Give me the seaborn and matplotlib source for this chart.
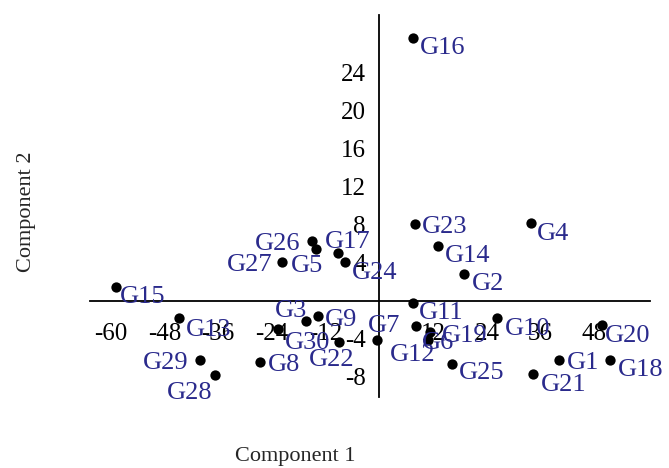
#!/usr/bin/env python3
import matplotlib
matplotlib.use('Agg')
import matplotlib.pyplot as plt
import numpy as np
import pandas as pd
import seaborn as sns

# genotype scores on the first two components
GENOTYPES = ['G%d' % i for i in range(1, 31)]
COMPONENT_1 = [40.1, 18.8, -16.4, 33.75, -14.2, 10.9, -0.5, -26.7, -13.7, 26.3,
               7.5, 8.1, -44.8, 13.0, -58.8, 7.5, -9.3, 51.5, 11.3, 49.7,
               34.3, -9.0, 7.9, -7.7, 16.25, -15.1, -21.7, -36.6, -40.1, -22.6]
COMPONENT_2 = [-6.2, 2.8, -2.1, 8.15, 5.4, -4.1, -4.1, -6.5, -1.6, -1.85,
               -0.2, -2.7, -1.85, 5.8, 1.4, 27.6, 5.05, -6.2, -3.3, -2.6,
               -7.7, -4.3, 8.05, 4.05, -6.65, 6.3, 4.1, -7.8, -6.25, -3.0]

X_TICKS = [-60, -48, -36, -24, -12, 12, 24, 36, 48]
Y_TICKS = [-8, -4, 4, 8, 12, 16, 20, 24]

# label placement, in pixels from the point (left edge of text, vertical centre)
LABEL_OFFSETS = {
    'G1': (8, 0), 'G2': (8, -7), 'G3': (-31, 13), 'G4': (6, -8), 'G5': (-25, -14),
    'G6': (-6, 0), 'G7': (-9, 17), 'G8': (8, 0), 'G9': (7, -1), 'G10': (8, -8),
    'G11': (6, -7), 'G12': (-26, -26), 'G13': (7, -9), 'G14': (7, -7), 'G15': (4, -7),
    'G16': (7, -7), 'G17': (-13, 14), 'G18': (8, -7), 'G19': (12, -1), 'G20': (3, -8),
    'G21': (8, -8), 'G22': (-30, -15), 'G23': (7, 0), 'G24': (7, -8), 'G25': (7, -6),
    'G26': (-57, 0), 'G27': (-55, 0), 'G28': (-49, -15), 'G29': (-57, 0), 'G30': (7, -11),
}
BASELINE_NUDGE = -3  # va='center' sits a little high for this font

LABEL_COLOR = '#2a2a8c'
SERIF = ['Liberation Serif', 'DejaVu Serif']


def main():
    sns.set_style('white')
    plt.rcParams['font.family'] = SERIF

    df = pd.DataFrame({'Component 1': COMPONENT_1, 'Component 2': COMPONENT_2, 'name': GENOTYPES})

    fig = plt.figure(figsize=(6.69, 4.68), dpi=100)
    ax = fig.add_axes([90 / 669, 1 - 397 / 468, 560 / 669, 382 / 468])
    sns.scatterplot(data=df, x='Component 1', y='Component 2', ax=ax,
                    color='black', s=55, edgecolor='black', linewidth=0, zorder=3)

    for name, x, y in zip(GENOTYPES, COMPONENT_1, COMPONENT_2):
        dx, dy = LABEL_OFFSETS[name]
        ax.annotate(name, (x, y), xytext=(dx, dy + BASELINE_NUDGE), textcoords='offset pixels',
                    ha='left', va='center', fontsize=19, color=LABEL_COLOR,
                    annotation_clip=False, zorder=4)

    ax.set_xlim(-64.6, 60.4)
    ax.set_ylim(-10.14, 30.07)

    # axes crossing at the origin
    for side in ['top', 'right']:
        ax.spines[side].set_visible(False)
    ax.spines['left'].set_position(('data', 0))
    ax.spines['bottom'].set_position(('data', 0))
    for side in ['left', 'bottom']:
        ax.spines[side].set_color('black')
        ax.spines[side].set_linewidth(1.3)

    ax.set_xticks(X_TICKS)
    ax.set_yticks(Y_TICKS)
    ax.set_xticklabels([str(t) for t in X_TICKS])
    ax.set_yticklabels([str(t) for t in Y_TICKS])
    ax.tick_params(axis='x', direction='out', length=7, width=1.3, pad=9, labelsize=18, colors='black')
    ax.tick_params(axis='y', direction='out', length=8, width=1.3, pad=2, labelsize=18, colors='black')
    ax.set_xlabel('')
    ax.set_ylabel('')

    fig.text(295 / 669, 1 - 457 / 468, 'Component 1', ha='center', va='center', fontsize=16)
    fig.text(27 / 669, 1 - 212 / 468, 'Component 2', ha='center', va='center', fontsize=16, rotation=90)

    fig.savefig('out.png', dpi=100)


if __name__ == '__main__':
    main()
